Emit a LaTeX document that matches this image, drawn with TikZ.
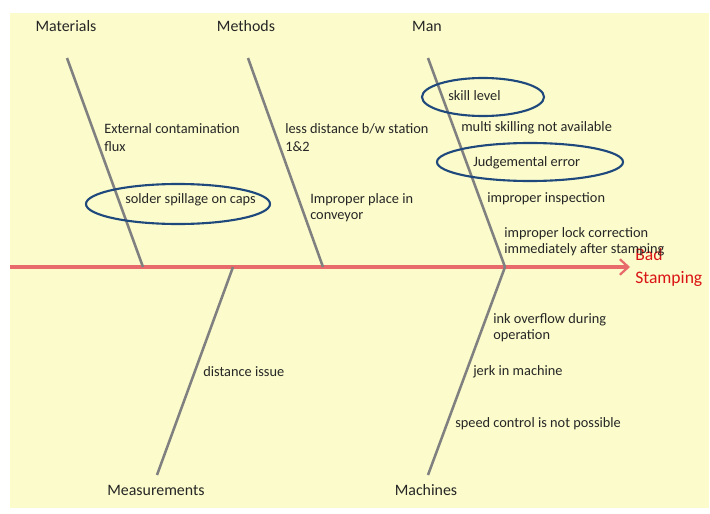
\documentclass[tikz,border=0pt]{standalone}
\usepackage{fontspec}
\setmainfont{Carlito}
\usetikzlibrary{arrows.meta,shapes.geometric}
\definecolor{paper}{RGB}{251,251,203}
\definecolor{spinered}{RGB}{232,106,106}
\definecolor{bonegray}{RGB}{128,128,128}
\definecolor{ringblue}{RGB}{31,73,125}
\definecolor{effectred}{RGB}{218,20,20}
\tikzset{
  bone/.style={draw=bonegray,line width=1.8pt},
  cat/.style={font=\fontsize{11.3}{13}\selectfont,text=black!85},
  cause/.style={anchor=west,align=left,inner sep=0pt,font=\fontsize{10.2}{11.4}\selectfont,text=black!85},
  widecause/.style={cause,font=\fontsize{10.2}{12.8}\selectfont},
  ring/.style={draw=ringblue,line width=1.5pt,ellipse,inner sep=0pt}
}
\begin{document}
\begin{tikzpicture}[x=0.025cm,y=-0.025cm]
\useasboundingbox (0,0) rectangle (710,513);
\fill[paper] (10,13) rectangle (709,508);

%spine and effect
\coordinate (tail) at (10,267);
\coordinate (head) at (630,267);
\draw [spinered,line width=2.2pt,-{Straight Barb[length=6pt,width=11pt,line width=1.6pt]}] (tail) -- (head);
\node [anchor=west,align=left,inner sep=0pt,font=\fontsize{12.5}{16.3}\selectfont,text=effectred] at (635,267) (effect) {Bad\\Stamping};

%joints on the spine
\coordinate (j_mat) at (143,267);
\coordinate (j_met) at (323,267);
\coordinate (j_man) at (505,267);
\coordinate (j_mea) at (233,267);
\coordinate (j_mac) at (505,267);

%bone ends
\coordinate (e_mat) at (67,58);
\coordinate (e_met) at (248,58);
\coordinate (e_man) at (428,58);
\coordinate (e_mea) at (157,475);
\coordinate (e_mac) at (428,475);

%category labels
\node [cat] at (66,26) (materials) {Materials};
\node [cat] at (246,26) (methods) {Methods};
\node [cat] at (427,26) (man) {Man};
\node [cat] at (156,490) (measurements) {Measurements};
\node [cat] at (426,490) (machines) {Machines};

%bones
\draw [bone] (e_mat) -- (j_mat);
\draw [bone] (e_met) -- (j_met);
\draw [bone] (e_man) -- (j_man);
\draw [bone] (j_mea) -- (e_mea);
\draw [bone] (j_mac) -- (e_mac);

%causes - materials
\node [widecause] at (104,138) (contam) {External contamination\\flux};
\node [cause] at (125,200) (spill) {solder spillage on caps};

%causes - methods
\node [widecause] at (285,138) (dist) {less distance b/w station\\1\&2};
\node [cause] at (310,208) (place) {Improper place in\\conveyor};

%causes - man
\node [cause] at (448,96) (skill) {skill level};
\node [cause] at (461,128) (multi) {multi skilling not available};
\node [cause] at (473,163) (judge) {Judgemental error};
\node [cause] at (487,199) (inspect) {improper inspection};
\node [cause] at (504,242) (lock) {improper lock correction\\immediately after stamping};

%causes - measurements and machines
\node [cause] at (203,372) (distissue) {distance issue};
\node [cause] at (493,328) (ink) {ink overflow during\\operation};
\node [cause] at (473,372) (jerk) {jerk in machine};
\node [cause] at (455,424) (speed) {speed control is not possible};

%rings round the main causes
\node [ring,minimum width=4.6cm,minimum height=1cm] at (178,204) (ring_spill) {};
\node [ring,minimum width=3.05cm,minimum height=0.95cm] at (483,97) (ring_skill) {};
\node [ring,minimum width=4.65cm,minimum height=0.95cm] at (530,162) (ring_judge) {};
\end{tikzpicture}
\end{document}
